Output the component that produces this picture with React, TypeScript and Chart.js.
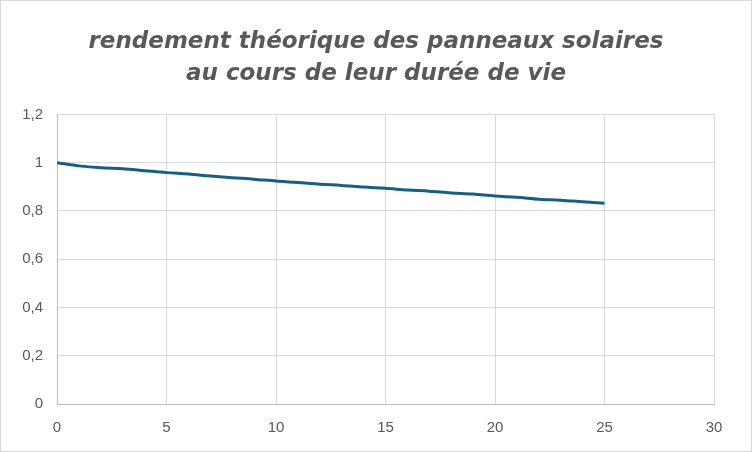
import React, { useEffect, useRef } from "react";
import { Chart, registerables } from "chart.js";

Chart.register(...registerables);

const years = [0, 1, 2, 3, 4, 5, 6, 7, 8, 9, 10, 11, 12, 13, 14, 15, 16, 17, 18, 19, 20, 21, 22, 23, 24, 25];
const rendement = [
  1.0, 0.987, 0.979, 0.975, 0.967, 0.959, 0.953, 0.945, 0.938, 0.932, 0.924,
  0.918, 0.911, 0.906, 0.899, 0.894, 0.887, 0.882, 0.875, 0.870, 0.862,
  0.857, 0.849, 0.845, 0.838, 0.832,
];
const titleLines = ["rendement théorique des panneaux solaires", "au cours de leur durée de vie"];

const FONT = "'Liberation Sans', Arial, sans-serif";
const TITLE_FONT = "'DejaVu Sans', 'Liberation Sans', sans-serif";

export default function App() {
  const ref = useRef<HTMLCanvasElement | null>(null);
  useEffect(() => {
    document.body.style.margin = "0";
    const ctx = ref.current!;
    const chart = new Chart(ctx, {
      type: "line",
      data: {
        datasets: [
          {
            data: years.map((x, i) => ({ x, y: rendement[i] })),
            borderColor: "#156082",
            borderWidth: 3,
            pointRadius: 0,
            tension: 0.4,
            cubicInterpolationMode: "monotone",
            fill: false,
          },
        ],
      },
      options: {
        animation: false,
        responsive: false,
        maintainAspectRatio: false,
        layout: { padding: { left: 0, right: 0, top: 0, bottom: 0 } },
        plugins: {
          legend: { display: false },
          tooltip: { enabled: false },
          title: {
            display: true,
            text: titleLines,
            color: "#595959",
            font: { family: TITLE_FONT, size: 23, weight: "bold", style: "italic", lineHeight: 1.38 },
            padding: { top: 25, bottom: 25 },
          },
        },
        scales: {
          x: {
            type: "linear",
            min: 0,
            max: 30,
            ticks: {
              stepSize: 5,
              color: "#595959",
              font: { family: FONT, size: 15 },
              padding: 15,
            },
            grid: { color: "#d9d9d9", drawTicks: false },
            border: { color: "#bfbfbf", width: 1 },
            afterFit: (s: any) => {
              s.height = 47;
            },
          },
          y: {
            min: 0,
            max: 1.2,
            ticks: {
              stepSize: 0.2,
              color: "#595959",
              font: { family: FONT, size: 15 },
              padding: 14,
              callback: (v: any) => String(Math.round(Number(v) * 10) / 10).replace(".", ","),
            },
            grid: { color: "#d9d9d9", drawTicks: false },
            border: { color: "#bfbfbf", width: 1 },
            afterFit: (s: any) => {
              s.width = 56;
            },
          },
          yr: {
            position: "right",
            display: true,
            min: 0,
            max: 1.2,
            grid: { display: false, drawTicks: false },
            border: { display: false },
            ticks: { display: false },
            afterFit: (s: any) => {
              s.width = 37;
            },
          },
        },
      },
    });
    return () => chart.destroy();
  }, []);
  return (
    <div
      style={{
        position: "absolute",
        left: 0,
        top: 0,
        width: 752,
        height: 452,
        border: "1px solid #d9d9d9",
        boxSizing: "border-box",
        background: "#fff",
      }}
    >
      <canvas ref={ref} width={750} height={450} style={{ display: "block" }} />
    </div>
  );
}
